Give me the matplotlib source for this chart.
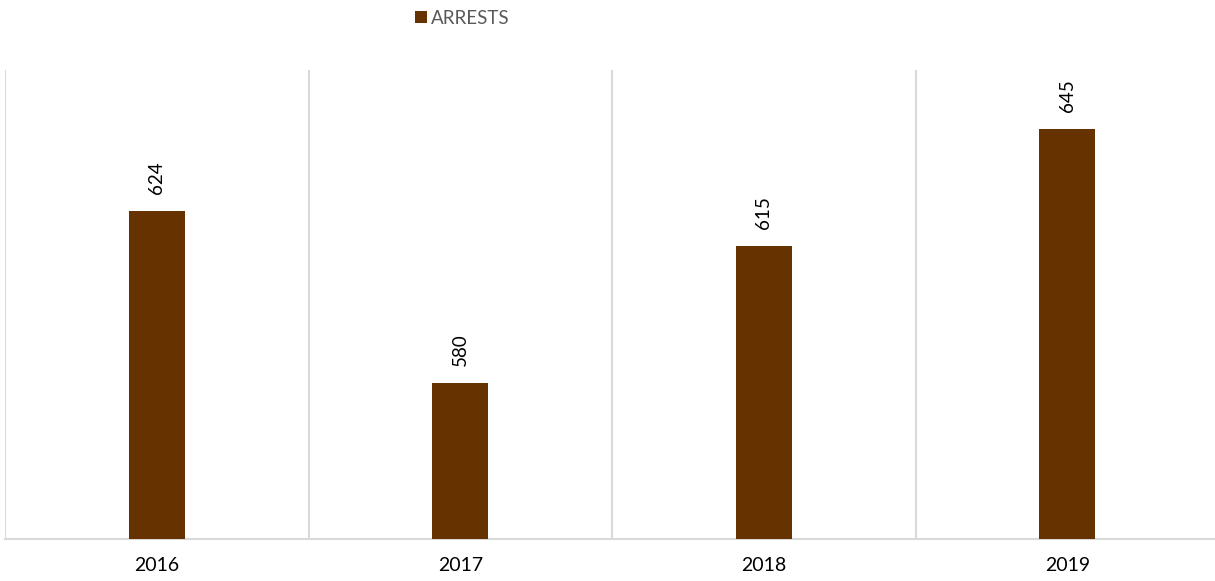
import matplotlib
matplotlib.use("Agg")
import matplotlib.pyplot as plt
from matplotlib.patches import Patch

years = ["2016", "2017", "2018", "2019"]
arrests = [624, 580, 615, 645]

plt.rcParams['font.family'] = ['Lato', 'DejaVu Sans']

fig = plt.figure(figsize=(12.15, 5.81), dpi=100)
ax = fig.add_axes([5/1215, 42/581, 1214/1215, 469/581])

x = list(range(len(years)))
bar_color = "#663300"
ax.bar(x, arrests, width=0.185, color=bar_color, zorder=3)
ax.set_xlim(-0.5, len(years) - 0.5)
ax.set_ylim(540, 660)

# vertical separators between categories
for b in [i - 0.5 for i in range(len(years) + 1)]:
    ax.axvline(b, color="#d9d9d9", lw=1.5, zorder=1)

for xi, v in zip(x, arrests):
    ax.annotate(str(v), (xi, v), xytext=(0, 12), textcoords="offset points",
                rotation=90, ha="center", va="bottom", fontsize=13.5, color="#000000")

ax.set_xticks(x)
ax.set_xticklabels(years, fontsize=14)
ax.tick_params(axis="x", length=0, pad=13, colors="#000000")
ax.set_yticks([])
for s in ["top", "right", "left"]:
    ax.spines[s].set_visible(False)
ax.spines["bottom"].set_color("#d9d9d9")
ax.spines["bottom"].set_linewidth(1.5)

handles = [Patch(facecolor=bar_color, label="ARRESTS")]
leg = fig.legend(handles=handles, loc="center", bbox_to_anchor=(462/1215, 1 - 18/581),
                 frameon=False, fontsize=13.5, handlelength=0.65, handleheight=0.65,
                 handletextpad=0.2)
for t in leg.get_texts():
    t.set_color("#595959")

fig.savefig("out.png", dpi=100)
